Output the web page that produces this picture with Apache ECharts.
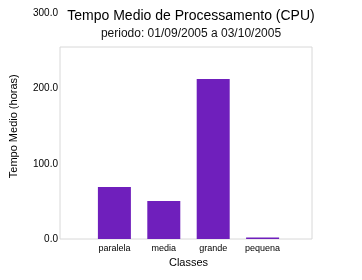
<!DOCTYPE html>
<html><head><meta charset="utf-8">
<script src="https://cdn.jsdelivr.net/npm/echarts@6/dist/echarts.min.js"></script>
<style>html,body{margin:0;padding:0;background:#fff}#c{width:362px;height:280px}</style>
</head><body><div id="c"></div>
<script>
var categories = ['', 'paralela', 'media', 'grande', 'pequena', ''];
var values = ['-', 69.2, 50.5, 212.8, 2, '-'];
var yTicks = [0, 100, 200, 300];
var titleText = 'Tempo Medio de Processamento (CPU)';
var subText = 'periodo: 01/09/2005 a 03/10/2005';

var chart = echarts.init(document.getElementById('c'), null, {renderer: 'canvas'});
var font = 'Liberation Sans, Arial, Helvetica, sans-serif';
chart.setOption({
  animation: false,
  backgroundColor: '#fff',
  textStyle: {fontFamily: font},
  title: [
    {text: titleText, left: 186, top: 4, textAlign: 'center',
     textStyle: {fontSize: 14, fontWeight: 'normal', color: '#000', fontFamily: font}},
    {text: subText, left: 186, top: 23, textAlign: 'center',
     textStyle: {fontSize: 12, fontWeight: 'normal', color: '#111', fontFamily: font}}
  ],
  graphic: [{
    type: 'rect', z: 0, silent: true,
    shape: {x: 60, y: 47, width: 252, height: 192},
    style: {fill: 'none', stroke: '#d8d8d8', lineWidth: 1}
  }],
  grid: {left: 60, right: 50, top: 13.5, bottom: 41, containLabel: false},
  xAxis: {
    type: 'category', data: categories, boundaryGap: false,
    name: 'Classes', nameLocation: 'middle', nameGap: 11,
    nameTextStyle: {fontSize: 11, color: '#000', fontFamily: font},
    axisLine: {show: false}, axisTick: {show: false},
    axisLabel: {fontSize: 9, color: '#000', margin: 5, fontFamily: font, interval: 0},
    splitLine: {show: false}
  },
  yAxis: {
    type: 'value', min: yTicks[0], max: yTicks[yTicks.length - 1], interval: 100,
    name: 'Tempo Medio (horas)', nameLocation: 'middle', nameGap: 46,
    nameTextStyle: {fontSize: 11, color: '#000', fontFamily: font},
    axisLine: {show: false}, axisTick: {show: false}, splitLine: {show: false},
    axisLabel: {fontSize: 10, color: '#000', margin: 7, fontFamily: font,
      formatter: function (v) { return v.toFixed(1); }}
  },
  series: [{
    type: 'bar', data: values, barWidth: 33,
    itemStyle: {color: '#6f1fbc'}
  }]
});
</script></body></html>
